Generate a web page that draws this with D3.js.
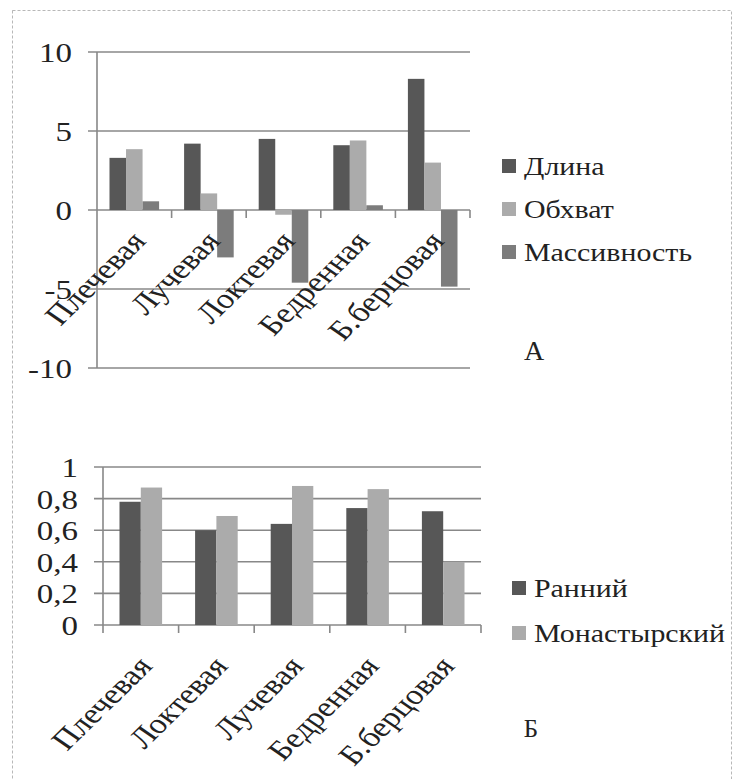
<!DOCTYPE html>
<html>
<head>
<meta charset="utf-8">
<script src="https://cdn.jsdelivr.net/npm/d3@7"></script>
<style>
  html, body { margin: 0; padding: 0; background: #fff; }
</style>
</head>
<body>
<svg id="fig" width="734" height="779" font-family="'Liberation Serif', 'Times New Roman', 'DejaVu Serif', serif"></svg>
<script>
// Panel A: relative differences by bone
const bonesA = ["Плечевая", "Лучевая", "Локтевая", "Бедренная", "Б.берцовая"];
const seriesA = ["Длина", "Обхват", "Массивность"];
const lengthA = [3.3, 4.2, 4.5, 4.1, 8.3];
const girthA = [3.85, 1.05, -0.3, 4.4, 3.0];
const massA = [0.55, -3.0, -4.6, 0.3, -4.85];
const ticksA = [-10, -5, 0, 5, 10];

// Panel B: coefficients for two groups
const bonesB = ["Плечевая", "Локтевая", "Лучевая", "Бедренная", "Б.берцовая"];
const seriesB = ["Ранний", "Монастырский"];
const earlyB = [0.78, 0.6, 0.64, 0.74, 0.72];
const monasticB = [0.87, 0.69, 0.88, 0.86, 0.4];
const ticksB = [0, 0.2, 0.4, 0.6, 0.8, 1];

const colorsA = ["#575757", "#ababab", "#7c7c7c"];
const colorsB = ["#575757", "#ababab"];
const gridColor = "#888";
const textColor = "#222";
const stretch = 1.22;

const svg = d3.select("#fig");

// light dashed frame
svg.append("rect")
  .attr("x", 12.5).attr("y", 10.5).attr("width", 719).attr("height", 790)
  .attr("fill", "none").attr("stroke", "#b8b8b8").attr("stroke-width", 1)
  .attr("stroke-dasharray", "3,2");

function drawPanel(opts) {
  const g = svg.append("g");
  const x0 = d3.scaleBand().domain(opts.cats).range([opts.left, opts.right]);
  const x1 = d3.scaleBand().domain(opts.series)
    .range([opts.pad, x0.bandwidth() - opts.pad]);
  const y = d3.scaleLinear().domain(opts.domain).range([opts.bottom, opts.top]);
  const y0 = y(0);

  // horizontal gridlines extend left as tick marks
  g.selectAll("line.grid").data(opts.ticks).join("line")
    .attr("x1", opts.left - 9).attr("x2", opts.right)
    .attr("y1", d => y(d)).attr("y2", d => y(d))
    .attr("stroke", gridColor).attr("stroke-width", 1.6);

  // vertical axis
  g.append("line")
    .attr("x1", opts.left).attr("x2", opts.left)
    .attr("y1", opts.top).attr("y2", opts.axisEnd)
    .attr("stroke", gridColor).attr("stroke-width", 1.6);

  // category separator ticks on the zero line
  const seps = opts.cats.map(c => x0(c) + x0.bandwidth());
  g.selectAll("line.sep").data(seps).join("line")
    .attr("x1", d => d).attr("x2", d => d)
    .attr("y1", y0).attr("y2", y0 + 8)
    .attr("stroke", gridColor).attr("stroke-width", 1.6);

  // bars
  const rows = [];
  opts.cats.forEach((c, i) => {
    opts.series.forEach((s, j) => {
      rows.push({ c, s, j, v: opts.values[j][i] });
    });
  });
  g.selectAll("rect.bar").data(rows).join("rect")
    .attr("x", d => x0(d.c) + x1(d.s))
    .attr("width", x1.bandwidth())
    .attr("y", d => Math.min(y(d.v), y0))
    .attr("height", d => Math.abs(y(d.v) - y0))
    .attr("fill", d => opts.colors[d.j]);

  // value axis labels
  g.selectAll("text.tick").data(opts.ticks).join("text")
    .attr("text-anchor", "end")
    .attr("dominant-baseline", "central")
    .attr("font-size", 27)
    .attr("fill", textColor)
    .attr("transform", d => `translate(${opts.tickX},${y(d) + 1}) scale(${stretch},1)`)
    .text(d => opts.fmt(d));

  // rotated category labels
  g.selectAll("text.cat").data(opts.cats).join("text")
    .attr("text-anchor", "end")
    .attr("font-size", 28)
    .attr("fill", textColor)
    .attr("transform", c => {
      const cx = x0(c) + x0.bandwidth() / 2 + opts.labDx;
      return `translate(${cx},${y0 + opts.labDy}) scale(${stretch},1) rotate(-50)`;
    })
    .text(c => c);

  // legend
  const lg = g.append("g");
  opts.series.forEach((s, j) => {
    const ly = opts.legY + j * opts.legStep;
    lg.append("rect")
      .attr("x", opts.legX).attr("y", ly - 7)
      .attr("width", 14).attr("height", 14)
      .attr("fill", opts.colors[j]);
    lg.append("text")
      .attr("dominant-baseline", "central")
      .attr("font-size", 24.5)
      .attr("fill", textColor)
      .attr("transform", `translate(${opts.legX + 22},${ly + 1}) scale(${stretch},1)`)
      .text(s);
  });

  // panel letter
  g.append("text")
    .attr("text-anchor", "middle")
    .attr("font-size", opts.letterSize)
    .attr("fill", textColor)
    .attr("x", opts.letterX).attr("y", opts.letterY)
    .text(opts.letter);
}

drawPanel({
  cats: bonesA, series: seriesA, values: [lengthA, girthA, massA],
  colors: colorsA, domain: [-10, 10], ticks: ticksA,
  left: 97, right: 470, top: 52, bottom: 368, axisEnd: 368, pad: 12.5,
  tickX: 72, fmt: d => String(d),
  labDx: 13, labDy: 32,
  legX: 502, legY: 166, legStep: 43,
  letter: "А", letterX: 534, letterY: 360, letterSize: 28
});

drawPanel({
  cats: bonesB, series: seriesB, values: [earlyB, monasticB],
  colors: colorsB, domain: [0, 1], ticks: ticksB,
  left: 103, right: 481, top: 467, bottom: 625, axisEnd: 633, pad: 16.5,
  tickX: 78, fmt: d => d3.format("~g")(d).replace(".", ","),
  labDx: 13, labDy: 42,
  legX: 512, legY: 588, legStep: 45,
  letter: "Б", letterX: 531, letterY: 737, letterSize: 25
});
</script>
</body>
</html>
